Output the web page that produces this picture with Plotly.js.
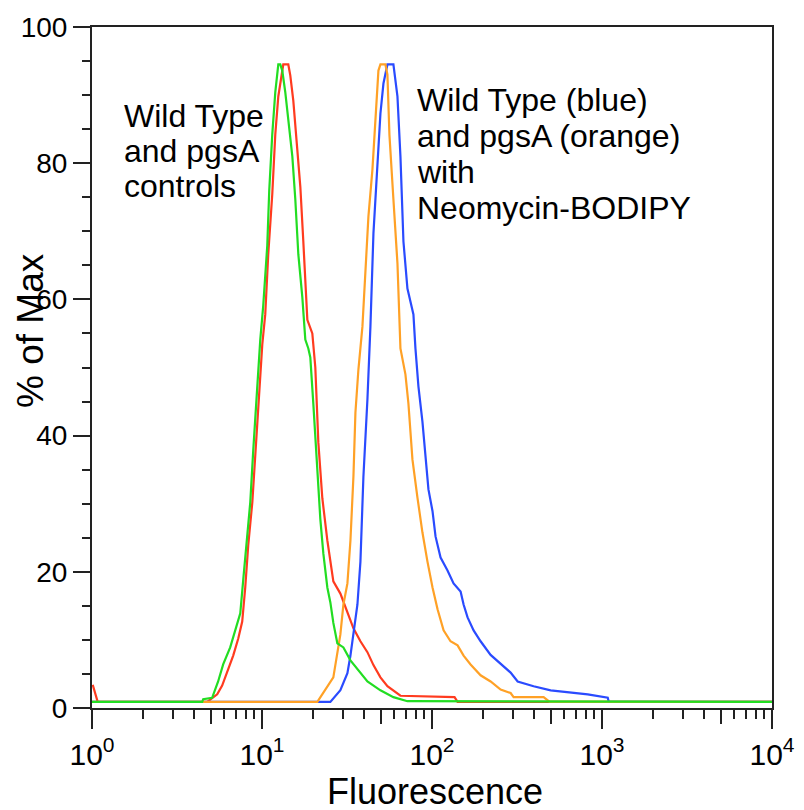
<!DOCTYPE html>
<html>
<head>
<meta charset="utf-8">
<script src="https://cdn.plot.ly/plotly-3.0.1.min.js"></script>
<style>html,body{margin:0;padding:0;background:#fff;}</style>
</head>
<body>
<div id="chart" style="width:804px;height:810px;"></div>
<script>
// ---- data ----
const greenX = [1, 4.45, 4.51, 5.09, 5.52, 5.91, 6.50, 6.96, 7.45, 7.76, 8.19, 8.53, 8.88, 9.38, 9.77, 10.17, 10.74, 11.03, 11.49, 11.97, 12.47, 12.81, 13.16, 13.71, 14.28, 15.08, 15.70, 16.36, 17.27, 17.98, 18.73, 19.24, 20.04, 21.16, 22.04, 22.95, 24.23, 25.24, 26.28, 27.75, 30.12, 33.13, 36.42, 41.70, 49.73, 59.29, 71.69, 10000];
const greenY = [0.9, 0.9, 1.3, 1.5, 3.9, 6.4, 8.9, 11.4, 13.9, 18.9, 25.2, 30.2, 37.8, 47.8, 54.1, 59.1, 67.9, 76, 84.2, 90.4, 94.5, 94.5, 93.6, 90.4, 86, 81, 74.7, 66.6, 60.3, 54.1, 52.8, 51.5, 44.7, 34, 27.7, 22.7, 17.7, 15.5, 12.5, 9.5, 8.9, 7, 5.7, 3.9, 2.6, 1.6, 1.0, 0.9];

const redX = [1.01, 1.06, 1.08, 4.76, 5.09, 5.45, 5.83, 6.24, 6.77, 7.25, 7.65, 7.97, 8.30, 8.77, 9.12, 9.51, 10.04, 10.45, 10.88, 11.49, 11.97, 12.47, 13.16, 13.34, 14.28, 14.67, 15.28, 16.13, 16.81, 17.50, 18.48, 19.77, 20.59, 21.45, 22.64, 24.23, 26.28, 28.91, 31.80, 34.50, 37.93, 41.70, 45.24, 49.73, 54.67, 59.29, 65.22, 135.7, 141.4, 10000];
const redY = [3.4, 1.5, 0.9, 0.9, 1.4, 2.0, 3.3, 5.2, 7.7, 10.2, 12.7, 17.7, 23.9, 30.2, 37.1, 44.7, 53.4, 57.8, 66.6, 75.4, 84.2, 89.8, 93.6, 94.5, 94.5, 92.9, 89.2, 82.3, 76.5, 68.5, 57, 55, 50, 39, 30.8, 24.6, 18.6, 16.8, 14.2, 11.7, 9.8, 8.2, 6.3, 4.5, 3.2, 2.6, 1.8, 1.6, 0.9, 0.9];

const blueX = [1, 25.24, 28.91, 31.80, 33.13, 36.42, 37.93, 39.5, 41.70, 43.43, 45.24, 47.75, 49.73, 51.8, 54.67, 59.29, 62.63, 65.22, 67.92, 71.69, 74.67, 77.76, 79.91, 83.23, 87.82, 91.52, 95.31, 100.7, 104.9, 112.3, 123.4, 133.9, 147.3, 153.4, 161.9, 175.7, 193.1, 221.2, 253.3, 290.0, 319.0, 396.0, 499.0, 628.2, 824.4, 1081, 1096, 10000];
const blueY = [0.9, 0.9, 2.6, 5.1, 7.7, 15.2, 21.5, 34, 45.3, 56, 69.7, 79.8, 87.3, 91.7, 94.5, 94.5, 89.8, 81, 68.5, 61.6, 59.7, 57.8, 52.8, 47.2, 42.1, 36.5, 32.1, 28.9, 25.2, 22.1, 20.2, 18.3, 17.1, 15.2, 13.3, 11.4, 9.8, 7.8, 6.5, 5.2, 3.9, 3.2, 2.6, 2.3, 2.0, 1.5, 0.9, 0.9];

const orangeX = [1, 21.16, 26.28, 28.91, 30.12, 31.80, 33.13, 34.50, 35.45, 36.91, 38.97, 40.58, 42.27, 44.63, 46.48, 48.40, 49.73, 53.21, 54.67, 56.17, 59.29, 62.63, 65.22, 69.78, 72.67, 76.72, 82.11, 87.82, 94.03, 100.7, 107.8, 117.0, 128.5, 141.4, 153.4, 168.6, 193.1, 221.2, 253.3, 290.0, 302.1, 453.6, 492.3, 10000];
const orangeY = [0.9, 0.9, 4.5, 10.8, 15.2, 18.3, 24.6, 34, 43.4, 49.7, 56, 63.5, 72.2, 79.1, 87.3, 93.6, 94.5, 94.5, 93, 84.2, 74.7, 65.3, 52.8, 49, 44.7, 36.5, 30.9, 25.8, 21.5, 17.7, 14.5, 11.4, 9.8, 9.2, 7.7, 6.4, 4.8, 3.9, 2.7, 2.2, 1.6, 1.6, 0.9, 0.9];

const xTickVals = [1, 10, 100, 1000, 10000];
const xTickText = ['10<sup>0</sup>', '10<sup>1</sup>', '10<sup>2</sup>', '10<sup>3</sup>', '10<sup>4</sup>'];
const yTickVals = [0, 20, 40, 60, 80, 100];
const xTitle = 'Fluorescence';
const yTitle = '% of Max';
const ctrlLabel = ['Wild Type', 'and pgsA', 'controls'];
const neoLabel = ['Wild Type (blue)', 'and pgsA (orange)', 'with', 'Neomycin-BODIPY'];

// ---- chart ----
const minorVals = [];
const fiveVals = [];
for (let d = 1; d < 10000; d *= 10) {
  for (let m = 2; m <= 9; m++) {
    if (m === 5) fiveVals.push(m * d); else minorVals.push(m * d);
  }
}

const axisColor = '#222';
const FONT = 'Liberation Sans, Arial, sans-serif';
const mk = (x, y, color, xa) => ({
  x: x, y: y, type: 'scatter', mode: 'lines', xaxis: xa || 'x', yaxis: 'y',
  line: {color: color, width: 2.2, shape: 'linear'}, hoverinfo: 'skip'
});

const traces = [
  mk(greenX, greenY, '#22dd22', 'x2'),
  mk(redX, redY, '#ff3b1f'),
  mk(blueX, blueY, '#2a4bff'),
  mk(orangeX, orangeY, '#ffa126')
];

const plotL = 92, plotT = 27, plotR = 772, plotB = 708;
const px2paperX = p => (p - plotL) / (plotR - plotL);
const py2paperY = p => (plotB - p) / (plotB - plotT);

const annotations = [];
const textFont = {family: FONT, size: 32, color: '#000'};
ctrlLabel.forEach((t, i) => annotations.push({
  text: t, xref: 'paper', yref: 'paper', x: px2paperX(122), y: py2paperY(116 + i * 35),
  xanchor: 'left', yanchor: 'middle', showarrow: false, font: textFont
}));
neoLabel.forEach((t, i) => annotations.push({
  text: t, xref: 'paper', yref: 'paper', x: px2paperX(415), y: py2paperY(100 + i * 36),
  xanchor: 'left', yanchor: 'middle', showarrow: false, font: textFont
}));
annotations.push({
  text: xTitle, xref: 'paper', yref: 'paper', x: px2paperX(435), y: py2paperY(791),
  xanchor: 'center', yanchor: 'middle', showarrow: false,
  font: {family: FONT, size: 36, color: '#000'}
});
annotations.push({
  text: yTitle, xref: 'paper', yref: 'paper', x: px2paperX(30), y: py2paperY(331),
  xanchor: 'center', yanchor: 'middle', textangle: -90, showarrow: false,
  font: {family: FONT, size: 37, color: '#000'}
});

const layout = {
  width: 804, height: 810,
  margin: {l: plotL, r: 804 - plotR, t: plotT, b: 810 - plotB, pad: 0},
  paper_bgcolor: '#fff', plot_bgcolor: '#fff',
  showlegend: false,
  font: {family: FONT, color: '#000'},
  xaxis: {
    type: 'log', range: [0, 4], tickmode: 'array', tickvals: xTickVals, ticktext: xTickText,
    ticks: 'outside', ticklen: 19, tickwidth: 2, tickcolor: axisColor,
    showline: true, linewidth: 2, linecolor: axisColor, mirror: true,
    showgrid: false, zeroline: false, tickfont: {size: 30, color: '#000'},
    minor: {tickmode: 'array', tickvals: minorVals, ticks: 'outside', ticklen: 9, tickwidth: 2, tickcolor: axisColor, showgrid: false}
  },
  xaxis2: {
    type: 'log', range: [0, 4], overlaying: 'x', anchor: 'y', side: 'bottom',
    tickmode: 'array', tickvals: fiveVals, ticks: 'outside', ticklen: 15, tickwidth: 2, tickcolor: axisColor,
    showticklabels: false, showline: false, showgrid: false, zeroline: false
  },
  yaxis: {
    range: [0, 100], tickmode: 'array', tickvals: yTickVals,
    ticks: 'outside', ticklen: 17, tickwidth: 2, tickcolor: axisColor,
    showline: true, linewidth: 2, linecolor: axisColor, mirror: true,
    showgrid: false, zeroline: false, tickfont: {size: 28, color: '#000'},
    minor: {dtick: 5, tick0: 0, ticks: 'outside', ticklen: 8, tickwidth: 2, tickcolor: axisColor, showgrid: false}
  },
  annotations: annotations
};

Plotly.newPlot('chart', traces, layout, {displayModeBar: false, staticPlot: true});
</script>
</body>
</html>
